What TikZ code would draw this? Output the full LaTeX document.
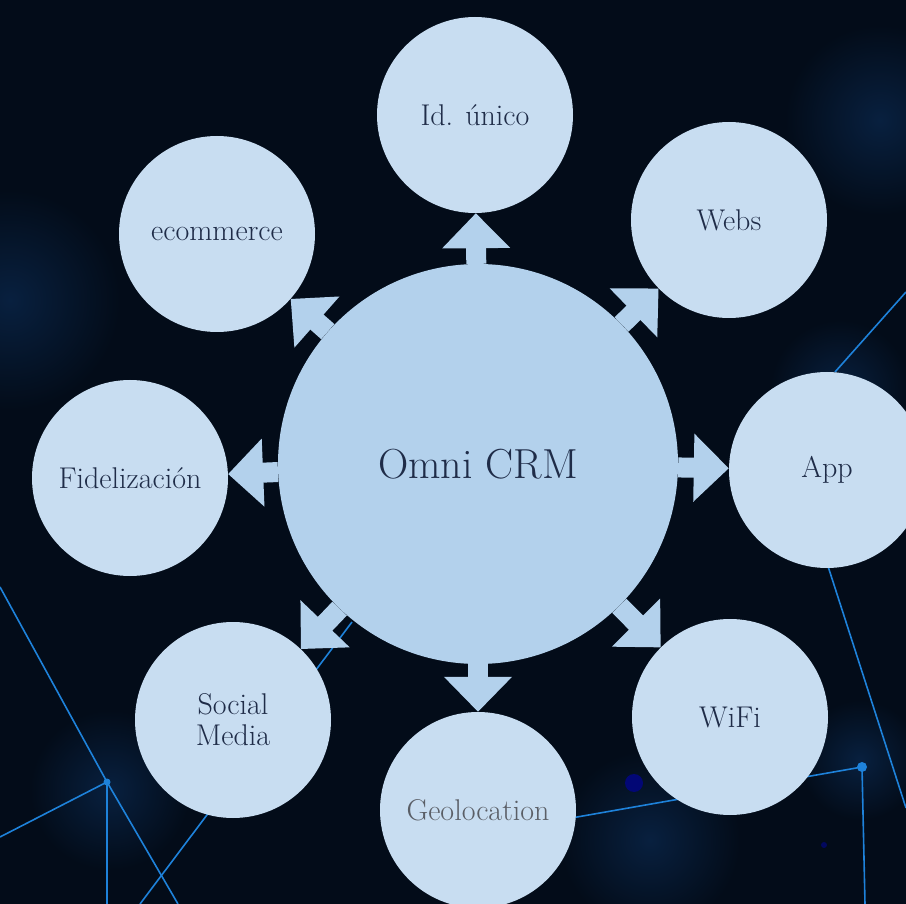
\documentclass[tikz,border=0pt]{standalone}
\usepackage{fontspec}
\usetikzlibrary{arrows.meta}
\definecolor{bgnavy}{HTML}{030C19}
\definecolor{glowblue}{HTML}{08203F}
\definecolor{netblue}{HTML}{1E82DA}
\definecolor{hubfill}{HTML}{B3D1EC}
\definecolor{satfill}{HTML}{C8DDF1}
\definecolor{labelnavy}{HTML}{1F2C48}
\definecolor{labelgray}{HTML}{5A5E66}
\begin{document}
\begin{tikzpicture}[x=1pt,y=-1pt,
    hub/.style={circle,fill=hubfill,minimum size=400pt,inner sep=0pt,text=labelnavy,font=\fontsize{42}{44}\selectfont},
    sat/.style={circle,fill=satfill,minimum size=196pt,inner sep=0pt,text=labelnavy,align=center,font=\fontsize{30}{31}\selectfont},
    spoke/.style={hubfill,line width=20pt,-{Triangle[width=66pt,length=35pt]}},
    net/.style={netblue,line width=1.6pt}]
    \useasboundingbox (0,0) rectangle (906,904);
    \clip (0,0) rectangle (906,904);
    \fill[bgnavy] (0,0) rectangle (906,904);
    % soft glows
    \foreach \x/\y/\r in {880/120/95,10/300/110,840/390/70,110/790/80,650/840/90,860/760/60}
        \shade[inner color=glowblue,outer color=bgnavy] (\x,\y) circle (\r);
    % network lines
    \draw[net] (906,292) -- (835,372);
    \draw[net] (826,560) -- (906,808);
    \draw[net] (560,820) -- (862,767) -- (865,904);
    \draw[net] (0,587) -- (107,782) -- (178,904);
    \draw[net] (0,837) -- (107,782) -- (107,904);
    \draw[net] (140,904) -- (352,622);
    \fill[netblue] (862,767) circle (5);
    \fill[netblue] (107,782) circle (3.5);
    \fill[blue!40!bgnavy] (634,783) circle (9);
    \fill[blue!30!bgnavy] (824,845) circle (3);
    % hub and satellites
    \node[hub] (crm) at (478,464) {Omni CRM};
    \foreach \name/\x/\y/\txt in {idunico/475/115/Id. único,webs/729/220/Webs,app/827/470/App,wifi/730/717/WiFi,
        social/233/720/{Social\\Media},fidel/130/478/Fidelización,ecom/217/234/ecommerce}
        \node[sat] (\name) at (\x,\y) {\txt};
    \node[sat,text=labelgray] (geo) at (478,810) {Geolocation};
    \foreach \name in {idunico,webs,app,wifi,geo,social,fidel,ecom}
        \draw[spoke] (crm) -- (\name);
\end{tikzpicture}
\end{document}
